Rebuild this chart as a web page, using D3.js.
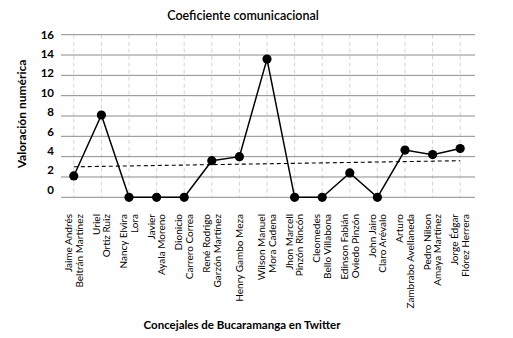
<!DOCTYPE html>
<html>
<head>
<meta charset="utf-8">
<script src="https://cdn.jsdelivr.net/npm/d3@7"></script>
<style>
  body { margin: 0; background: #fff; }
  text { font-family: Lato, "Open Sans", sans-serif; fill: #000; }
</style>
</head>
<body>
<div id="chart"></div>
<script>
// concejales (two lines each)
let names = [
  ["Jaime Andrés", "Beltrán Martínez"],
  ["Uriel", "Ortiz Ruiz"],
  ["Nancy Elvira", "Lora"],
  ["Javier", "Ayala Moreno"],
  ["Dionicio", "Carrero Correa"],
  ["René Rodrigo", "Garzón Martínez"],
  ["Henry Gambo Meza"],
  ["Wilson Manuel", "Mora Cadena"],
  ["Jhon Marcell", "Pinzón Rincón"],
  ["Cleomedes", "Bello Villabona"],
  ["Edinson Fabián", "Oviedo Pinzón"],
  ["John Jairo", "Claro Arévalo"],
  ["Arturo", "Zambrabo Avellaneda"],
  ["Pedro Nilson", "Amaya Martínez"],
  ["Jorge Édgar", "Flórez Herrera"]
];
let values = [2.1, 8.1, 0, 0, 0, 3.6, 4.0, 13.6, 0, 0, 2.4, 0, 4.65, 4.2, 4.8];
let trend = [3.0, 3.6];   // linea de tendencia, inicio y fin
let yTicks = [0, 2, 4, 6, 8, 10, 12, 14, 16];

let width = 513, height = 338;
let svg = d3.select("#chart").append("svg").attr("width", width).attr("height", height);

let ids = names.map((d, i) => i);

let x = d3.scalePoint()
  .domain(ids)
  .range([60, 474])
  .padding(0.5);

let y = d3.scaleLinear().domain([0, 16]).range([197.3, 34.7]);
// the tick labels sit a bit off the gridlines in the original
let yLab = d3.scaleLinear().domain([0, 16]).range([189.5, 34.5]);

// vertical dashed grid
svg.append("g")
  .selectAll("line")
  .data(ids)
  .enter().append("line")
  .attr("x1", d => x(d)).attr("x2", d => x(d))
  .attr("y1", y(16)).attr("y2", y(0))
  .attr("stroke", "#d4d4d4")
  .attr("stroke-dasharray", "4,3");

// horizontal grid
svg.append("g")
  .selectAll("line")
  .data(yTicks)
  .enter().append("line")
  .attr("x1", 61).attr("x2", 475)
  .attr("y1", d => y(d)).attr("y2", d => y(d))
  .attr("stroke", "#8c8c8c")
  .attr("stroke-width", 1);

// y tick labels
let yAxis = svg.append("g")
  .attr("transform", "translate(54,0)")
  .call(d3.axisLeft(yLab).tickValues(yTicks).tickSize(0).tickPadding(0));
yAxis.select(".domain").remove();
yAxis.selectAll("text")
  .style("font-family", "Lato, sans-serif")
  .style("font-size", "11.5px")
  .style("font-weight", "bold")
  .attr("fill", "#000");

// trend line
svg.append("line")
  .attr("x1", x(0)).attr("x2", x(ids.length - 1))
  .attr("y1", y(trend[0])).attr("y2", y(trend[1]))
  .attr("stroke", "#000")
  .attr("stroke-width", 1.1)
  .attr("stroke-dasharray", "4,3");

// series line
let line = d3.line()
  .x((d, i) => x(i))
  .y(d => y(d));

svg.append("path")
  .datum(values)
  .attr("d", line)
  .attr("fill", "none")
  .attr("stroke", "#000")
  .attr("stroke-width", 1.5);

svg.append("g")
  .selectAll("circle")
  .data(values)
  .enter().append("circle")
  .attr("cx", (d, i) => x(i))
  .attr("cy", d => y(d))
  .attr("r", 4.6)
  .attr("fill", "#000");

// x labels, rotated
let labels = svg.append("g")
  .selectAll("g")
  .data(names)
  .enter().append("g")
  .attr("transform", (d, i) => `translate(${x(i)},214) rotate(-90)`);

labels.selectAll("text")
  .data(d => d.map((t, j) => ({t: t, j: j, n: d.length})))
  .enter().append("text")
  .attr("x", 0)
  .attr("y", d => (d.j - (d.n - 1) / 2) * 10.5 + 3.5)
  .attr("text-anchor", "end")
  .style("font-size", "10px")
  .text(d => d.t);

// titles
svg.append("text")
  .attr("x", 243).attr("y", 20)
  .attr("text-anchor", "middle")
  .style("font-size", "12.5px")
  .style("font-weight", "600")
  .text("Coeficiente comunicacional");

svg.append("text")
  .attr("transform", "translate(26,114) rotate(-90)")
  .attr("text-anchor", "middle")
  .style("font-size", "12px")
  .style("font-weight", "bold")
  .text("Valoración numérica");

svg.append("text")
  .attr("x", 242).attr("y", 329)
  .attr("text-anchor", "middle")
  .style("font-size", "11.5px")
  .style("font-weight", "bold")
  .text("Concejales de Bucaramanga en Twitter");
</script>
</body>
</html>
